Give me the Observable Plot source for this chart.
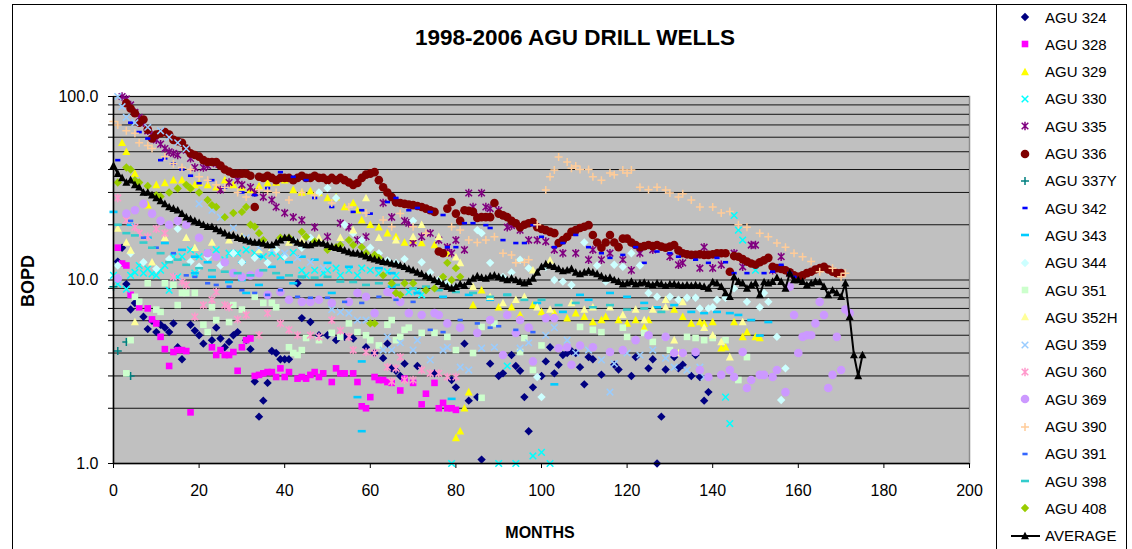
<!DOCTYPE html>
<html><head><meta charset="utf-8">
<script src="https://cdn.jsdelivr.net/npm/d3@7"></script>
<script src="https://cdn.jsdelivr.net/npm/@observablehq/plot@0.6"></script>
<style>
body{margin:0;background:#fff;font-family:"Liberation Sans",Arial,sans-serif;}
#wrap{position:relative;width:1132px;height:549px;overflow:hidden;background:#fff;}
#wrap svg.plot{position:absolute;left:0;top:0;}
.outer{position:absolute;left:12px;top:4px;width:1115px;height:600px;border:1.5px solid #000;box-sizing:border-box;}
.legbox{position:absolute;left:996px;top:4px;width:1px;height:600px;border-left:1.5px solid #000;}
.title{position:absolute;left:325px;width:500px;top:24px;text-align:center;font-weight:bold;font-size:22.5px;line-height:28px;}
.ylab{position:absolute;left:28px;top:281px;transform:translate(-50%,-50%) rotate(-90deg);font-weight:bold;font-size:18px;white-space:nowrap;}
.xlab{position:absolute;left:540px;top:533px;transform:translate(-50%,-50%);font-weight:bold;font-size:16px;white-space:nowrap;}
.leg{position:absolute;left:1005px;height:20px;display:flex;align-items:center;font-size:15px;white-space:nowrap;}
.leg svg{width:40px;height:20px;flex:none;}
</style></head><body><div id="wrap"></div><script>
// ---------- tick labels ----------
const xTicks = [0,20,40,60,80,100,120,140,160,180,200];
const yMajor = [1,10,100];
const yMajorLabels = ["1.0","10.0","100.0"];
const yGrid = [1,2,3,4,5,6,7,8,9,10,20,30,40,50,60,70,80,90,100];
const chartTitle = "1998-2006 AGU DRILL WELLS";
const xTitle = "MONTHS";
const yTitle = "BOPD";

// ---------- series: [month, BOPD] ----------
const agu324 = [[1,12.6],[2,15],[3,9.5],[4,6.9],[5,7.5],[7,6.3],[8,5.4],[9,6],[10,5.2],[11,5.7],[12,5.5],[13,5.2],[14,5.8],[15,4.3],[16,3.7],[18,5.7],[19,5.3],[20,5.0],[21,4.5],[23,4.7],[24,5.5],[25,4.8],[26,4.3],[27,4.6],[28,5.0],[29,5.2],[31,4.7],[32,4.2],[33,2.8],[34,1.8],[35,2.2],[36,2.75],[37,4.1],[38,4.0],[39,3.7],[40,3.7],[41,3.7],[43,9.6],[44,6.2],[46,5.9],[48,5.0],[50,5.0],[52,4.7],[54,4.9],[56,4.8],[59,4.3],[61,4.0],[63,3.75],[64,4.5],[65,3.3],[66,3.2],[67,3.0],[68,3.5],[71,3.4],[75,3.1],[79,2.85],[80,2.6],[82,4.5],[83,2.2],[85,2.3],[86,1.05],[88,3.5],[90,3.0],[91,3.1],[93,3.9],[94,3.4],[95,3.2],[96,2.3],[97,1.5],[98,2.6],[100,3.0],[101,3.6],[102,4.3],[103,3.1],[104,3.45],[105,3.9],[106,4.0],[107,4.1],[108,4.0],[109,3.35],[110,2.7],[111,3.8],[112,3.7],[114,3.05],[117,3.45],[118,3.25],[121,3.0],[122,3.8],[125,3.3],[126,3.7],[127,1.0],[128,1.8],[129,3.25],[131,3.8],[132,3.3],[133,3.45],[135,3.0],[136,3.9],[137,2.96],[138,2.2],[139,2.45]];
const agu328 = [[1,15],[2,12.3],[3,12],[4,8.3],[6,7.1],[8,7.0],[9,6.1],[10,5.8],[11,4.9],[12,4.2],[13,3.4],[14,4.05],[15,4.15],[16,4.15],[17,4.1],[18,1.9],[23,4.3],[24,3.9],[25,4.15],[26,3.9],[27,3.9],[28,4.05],[29,3.2],[30,4.3],[31,4.7],[32,4.8],[33,3.0],[34,3.04],[35,3.1],[36,3.15],[37,3.15],[38,2.96],[39,3.3],[40,2.96],[41,3.15],[43,2.9],[44,2.96],[45,2.9],[46,3.04],[47,3.15],[48,2.96],[49,3.1],[51,2.78],[52,3.3],[53,3.1],[54,3.1],[56,3.1],[57,2.78],[58,2.05],[59,2.0],[60,2.3],[61,2.96],[62,2.85],[63,2.85],[64,2.78],[65,2.75],[67,2.5],[68,2.9],[70,2.75],[72,2.1],[73,2.4],[75,2.75],[76,2.0],[77,2.14],[78,2.0],[79,2.0],[80,1.96]];
const agu329 = [[2,56],[3,50],[5,38],[8,25.6],[10,33],[12,33.8],[14,35],[16,35],[18,32],[19,33],[20,33.8],[22,33],[24,32],[26,35],[28,33],[30,32],[32,31],[34,32.5],[36,33.8],[38,34],[40,35],[42,31],[44,30],[46,30.5],[48,29.8],[50,28],[52,28.3],[54,25],[56,26.3],[57,24],[58,21.2],[60,20],[62,19.4],[64,18],[66,17.2],[68,16],[70,16.5],[72,15.9],[75,15.5],[78,14],[80,1.38],[81,1.5],[82,2.0],[83,2.45],[84,7.3],[86,8.8],[88,8],[90,7.1],[93,7.1],[95,6.45],[98,7.3],[100,6.7],[103,6.6],[106,6.2],[108,6.6],[110,6.3],[112,5.9],[114,6.05],[115,6.3],[118,6.05],[120,5.8],[122,6.05],[124,5.5],[125,6.05],[131,6.9],[133,6.3],[135,5.8],[137,5.9],[138,5.8],[140,5.9],[142,4.25],[143,4.3],[145,5.9],[147,4.9],[148,5.2],[150,4.9],[151,4.83]];
const agu330 = [[0,10.6],[1,9.5],[3,8.9],[4,10.6],[5,11],[6,12],[7,10.9],[8,11.5],[9,10.8],[10,10.6],[11,11.3],[12,12],[13,8.8],[14,13.4],[15,10.4],[16,13.4],[18,14.6],[19,10.9],[20,13.4],[22,14],[24,14.6],[26,12.9],[27,14],[29,14],[31,14.6],[33,14],[35,13.4],[37,14],[39,13.4],[42,14.1],[44,11.3],[45,10.6],[47,11.3],[49,10.9],[50,11.3],[52,11.6],[53,10.6],[55,11.3],[57,10.6],[58,11.6],[60,11.3],[62,10.9],[64,11.1],[66,10.6],[69,8.6],[71,8.6],[72,8.3],[79,1.0],[90,1.0],[92,3.4],[94,1.0],[98,1.1],[100,1.15],[102,1.0],[143,2.3],[144,1.65],[145,22.5],[146,18.7],[147,16.5],[148,12.4],[150,11.3]];
const agu335 = [[2,100],[3,97],[4,90],[5,82],[6,77],[7,72],[8,65],[9,62],[10,58],[11,55],[12,52],[13,50],[14,49],[15,48],[17,51],[18,46],[19,41],[21,41],[22,42],[24,43],[25,31],[27,34],[29,35],[30,33],[32,32],[33,30],[35,28.3],[37,27.3],[38,25],[40,23.2],[42,22],[44,21.2],[47,19.4],[50,17.2],[53,20.4],[55,19.4],[57,16.5],[59,17.2],[63,26.3],[65,22],[68,21],[69,20.4],[70,15.9],[72,17.2],[74,18],[76,16.5],[78,15.1],[79,14],[80,16.5],[82,14.6],[83,29.8],[84,25],[85,22],[86,29.8],[87,25],[88,24.5],[90,24],[92,19.4],[93,19.8],[95,18.7],[97,16.5],[99,16.5],[101,16.2],[103,14.6],[105,14],[108,14],[111,12.9],[112,14.6],[114,12.9],[116,14],[119,12.9],[121,11.3],[123,14],[126,14.6],[130,13.4],[132,12.1],[133,12.4],[137,11.6],[138,15.1],[140,11.6],[142,12.1],[145,14],[147,11.8],[149,15.5],[150,15.5],[154,11.3],[156,13.4],[158,10.9]];
const agu336 = [[3,92],[4,86],[5,81],[6,72],[7,75],[8,66],[9,59],[10,62],[11,63],[12,64],[13,62],[14,58],[15,57],[16,56],[17,52],[18,49],[19,48],[20,47],[21,45],[22,44],[23,44],[24,44],[25,42],[26,40],[27,39],[28,38],[29,38],[30,38],[31,38],[32,37],[33,25],[34,36.5],[35,36],[36,37],[37,36],[38,35],[39,36],[40,36],[41,36],[42,35],[43,36],[44,37],[45,36],[46,36],[47,37],[48,36],[49,36],[50,35],[51,36],[52,35],[53,36],[54,35],[55,34],[56,33],[57,33.8],[58,36],[59,37.5],[60,38],[61,38.7],[62,35],[63,32],[64,30],[65,28.3],[66,26.5],[67,26.3],[68,26],[69,25.8],[70,25.6],[71,25.3],[72,25],[73,24.5],[74,24],[75,23.5],[76,14.3],[77,14],[78,24.5],[79,26.6],[80,23],[81,21],[82,24],[83,23.8],[84,23.5],[85,21.8],[86,22],[87,22],[88,22],[89,26.3],[90,23],[91,22.5],[92,22],[93,21],[94,20.4],[95,19.4],[96,20],[97,20.4],[98,20.7],[99,19.4],[100,19],[101,18.7],[102,18.3],[103,18],[104,15.9],[105,16.5],[106,17.2],[107,18.3],[108,18.7],[109,19.2],[110,19.5],[111,19.9],[112,17.6],[113,16],[114,15],[115,16],[116,17.6],[117,16],[118,15.1],[119,16.8],[120,16.8],[121,16],[122,15.5],[123,15.1],[124,15.3],[125,15.5],[126,15.3],[127,15.5],[128,15.2],[129,15],[130,15.2],[131,15.5],[132,14.5],[133,14],[134,13.8],[135,13.7],[136,13.7],[137,13.8],[138,13.7],[139,13.7],[140,13.8],[141,14],[142,14],[143,14],[144,11.1],[145,13.5],[146,13.4],[147,13],[148,12.6],[149,12.3],[150,12.1],[151,12.5],[152,12.8],[153,13.2],[154,11.8],[155,11.6],[156,11.5],[157,11.3],[158,11],[159,10.6],[160,10.4],[161,10.6],[162,10.9],[163,11.1],[164,11.4],[165,11.6],[166,11.8],[167,11.4],[168,11.1],[169,10.9],[170,10.9]];
const agu337Y = [[0,9.2],[1,4.1],[3,4.6],[4,3.0]];
const agu342 = [[1,45],[4,72],[6,64],[8,59],[11,45],[12,46],[14,43],[16,40],[18,37],[20,33.7],[23,35],[26,32],[30,30],[33,29],[36,31.7],[39,38.7],[42,36.5],[45,35],[47,28],[51,25],[56,23.5],[58,24],[60,23],[64,26.6],[66,28],[69,24],[71,24.7],[74,23.5],[77,22.6],[78,15.1],[80,15.1],[82,20.4],[84,20.4],[87,19.9],[88,19.2],[91,16.5],[94,15.9],[96,15.9],[98,19.9],[100,17.2],[103,15.1],[105,15.9],[108,17.6],[111,15.1],[114,14],[116,13.2],[119,13.7],[122,15.1],[124,12.4],[127,14.3],[130,14],[132,13.4],[136,12.9],[139,12.4],[141,13.2],[143,12.5],[145,10.9],[148,10.9],[152,10.9],[154,11.1],[156,12.1],[158,10.9],[159,10.4]];
const agu343 = [[0,23.5],[4,20],[8,17],[12,15.9],[16,14.6],[19,13.4],[19,10.9],[22,12.5],[23,10.4],[26,12.5],[27,9.75],[30,12.5],[30,10],[31,8.5],[34,13.4],[34,9.4],[37,11.8],[39,10.3],[41,12.5],[42,9.6],[44,13.4],[44,10.4],[47,12.9],[48,9.4],[50,12.4],[51,8.5],[55,11.8],[57,2.3],[58,3.6],[58,1.5],[62,11.6],[65,10.9],[65,9.2],[71,8.5],[77,8.1],[79,2.25],[83,8.3],[88,7.8],[92,8.3],[99,7.5],[103,2.7],[105,6.7],[109,8.3],[111,7.8],[116,8.5],[120,8.1],[124,7.5],[127,7.1],[131,7.3],[135,6.7],[138,6.6],[141,6.7],[144,6.6],[146,6.45],[149,6.05],[151,4.98],[153,5.9]];
const agu344 = [[1,12],[4,14],[7,12.5],[10,11.5],[13,13],[15,19],[18,12.6],[20,11.8],[22,13.4],[25,12],[28,14],[30,12.5],[33,13.2],[36,12.4],[38,14.6],[40,13.5],[42,16.5],[44,15],[46,17],[48,30],[50,31.7],[52,28],[54,20],[56,18],[58,16.5],[60,15],[62,14],[64,12.8],[66,12.4],[68,13],[70,21],[72,12.5],[74,11],[76,10],[78,9.6],[80,9.2],[85,18.7],[86,18],[88,12.4],[91,10.4],[93,11],[95,12.9],[97,11.6],[99,2.96],[100,2.3],[101,11.8],[103,10],[105,9.8],[107,9.4],[110,16],[113,12],[115,9.8],[117,12.1],[119,11.8],[121,14],[123,12],[125,8.5],[127,8.1],[130,8.1],[132,7.8],[134,8.0],[136,8.0],[137,7.0],[139,7.0],[140,7.1],[141,7.8],[143,8.0],[145,9.0],[148,7.6],[151,7.1],[152,8.5],[153,7.6],[155,4.9],[156,2.22],[157,3.3]];
const agu351 = [[1,10.2],[3,3.1],[4,4.7],[5,8.1],[6,7.6],[8,9.6],[10,6.9],[11,6.7],[12,9.6],[14,9.4],[15,7.3],[16,8.5],[17,8.5],[19,8.5],[21,5.7],[22,5.2],[23,7.1],[24,6.05],[27,5.9],[28,7.3],[30,6.9],[33,8.1],[35,7.5],[37,7.5],[38,7.1],[41,4.3],[42,4.0],[43,3.9],[44,4.15],[45,4.83],[48,4.7],[51,5.15],[53,4.9],[55,5.8],[57,5.2],[59,5.0],[60,4.7],[62,4.4],[64,5.7],[65,6.05],[66,4.7],[67,4.9],[68,5.35],[69,5.5],[72,5.15],[75,5.15],[78,4.9],[80,4.15],[84,4.0],[86,2.28],[86,5.55],[89,5.8],[95,4.05],[96,4.83],[98,3.23],[100,4.4],[109,5.55],[112,5.35],[114,5.2],[119,5.5],[120,4.9],[124,5.15],[126,4.6],[129,4.9],[130,4.15],[134,4.9],[136,4.83],[138,4.7],[140,4.83],[143,4.7],[146,2.85],[148,3.8]];
const agu352H = [[1,19.1],[3,16],[4,14.5],[5,5.9],[9,12.5],[12,17],[17,17],[19,15],[23,16],[27,16.5],[30,17.2],[34,14.6],[37,15],[41,16],[44,16.5],[48,17],[53,17],[56,18.7],[59,28],[62,17],[66,16.5],[70,17.2],[72,20],[76,17.2],[80,13.3],[81,12.4],[84,9.2],[88,8.1],[91,7.5],[94,7.8],[96,8.1],[98,11.3],[99,7.1],[102,6.9],[102,12.8],[107,7.5],[110,6.9],[112,7.1],[116,7.1],[119,6.45],[122,6.9],[124,6.05],[126,6.9],[129,7.1],[129,7.8],[131,4.7],[132,4.0],[133,7.6],[133,4.0],[138,5.5],[140,5.0],[142,4.6],[144,3.8],[147,5.9]];
const agu359 = [[1,100],[2,88],[3,77],[5,72],[8,68],[11,65],[13,60],[15,56],[17,52],[20,26],[23,24],[25,22],[28,19.2],[31,17],[34,15],[37,14.6],[40,14],[43,13.2],[46,12.5],[49,11.6],[51,6.9],[53,6.7],[55,6.6],[57,6.05],[59,6.05],[63,4.15],[64,4.9],[65,4.15],[67,4.55],[70,4.15],[71,4.7],[74,3.67],[77,4.15],[78,4.3],[81,3.35],[83,3.23],[86,4.25],[89,4.3],[95,4.25],[97,4.55],[101,5.0],[103,5.5],[106,4.7],[108,4.0],[111,4.15],[114,3.67],[116,2.45],[117,3.5],[120,4.0],[123,3.9],[126,4.15],[129,3.75],[131,3.35],[134,3.23],[137,3.35],[138,2.96]];
const agu360 = [[1,28],[3,21.2],[5,19.4],[6,18],[8,17.2],[10,19],[12,18],[14,10.4],[16,9.75],[17,9.4],[19,6.3],[21,7.3],[23,7.8],[24,8.6],[26,7.3],[27,7.1],[29,6.1],[31,6.45],[34,5.0],[36,6.6],[39,5.8],[41,5.35],[43,5.0],[46,5.0],[48,4.9],[51,6.05],[53,5.3],[55,4.9],[56,4.15],[59,4.05],[61,4.0],[64,3.35],[65,2.8],[66,3.3],[67,3.8],[68,2.85],[70,2.85],[72,3.23],[74,3.1],[76,3.1],[78,2.96],[80,2.96]];
const agu369 = [[1,10.2],[3,23],[5,24],[7,26],[9,23],[11,21],[13,20],[15,21],[17,20],[20,17],[22,14],[24,13.4],[26,12.5],[28,10.9],[30,10.4],[32,10.6],[34,10.9],[36,8.3],[39,8.6],[41,7.8],[44,7.6],[46,7.6],[48,7.8],[51,7.5],[55,7.6],[57,8.5],[59,8.1],[61,6.6],[64,8.6],[65,8.5],[66,8.1],[67,7.6],[69,6.6],[72,6.45],[75,6.6],[76,6.45],[78,5.8],[81,5.5],[85,5.15],[88,6.05],[91,3.9],[92,6.45],[94,5.15],[95,6.05],[97,5.5],[98,3.6],[101,6.2],[103,6.2],[104,4.25],[106,4.3],[107,3.45],[109,4.4],[112,4.3],[116,4.05],[119,4.15],[122,4.7],[125,5.0],[129,4.9],[131,4.0],[133,4.0],[136,4.05],[137,3.23],[139,2.96],[142,3.04],[144,3.23],[145,2.96],[147,4.05],[148,2.58],[149,2.85],[151,3.04],[152,3.04],[154,2.96],[155,3.23],[157,2.45],[158,9.2],[159,6.45],[160,4.0],[161,4.9],[162,5.0],[163,5.0],[164,5.8],[165,7.6],[166,6.45],[167,2.58],[168,3.04],[169,4.9],[170,3.23],[171,6.9],[172,6.6]];
const agu390 = [[0,73],[1,70],[3,65],[5,63],[6,56],[8,54],[9,52],[12,47],[14,43],[16,41],[18,40],[20,36.5],[22,35],[24,33],[26,32],[29,30],[31,28.3],[34,31],[36,30.5],[38,30],[41,27.3],[44,30],[47,29],[51,26.3],[55,25],[59,23.2],[63,21.2],[65,19.5],[67,23],[70,19.5],[73,18],[79,19.5],[81,18.7],[83,16.5],[85,16],[87,16.5],[89,17.2],[91,14],[93,13.7],[94,12.4],[96,12.5],[97,12.9],[99,20],[101,30.9],[102,36.5],[103,39.7],[104,46.8],[106,44],[107,40.7],[108,41.8],[109,40],[111,40],[112,36.5],[114,35],[116,38.3],[117,37.5],[119,39.7],[120,38.3],[121,39.7],[123,32],[125,31],[127,32],[129,30.9],[130,29.8],[132,28.3],[133,29.5],[135,27.3],[137,25],[140,25],[142,23.2],[144,23.6],[146,20],[148,19.4],[151,18],[153,17.2],[155,15.9],[157,15.1],[159,14],[161,13.4],[163,12.6],[165,11.1],[168,11.6],[170,10.4],[171,10.9]];
const agu391 = [[4,21],[7,17],[10,15],[14,14],[17,10.6],[19,10.4],[22,9.6],[24,9.4],[27,9.2],[30,8.8],[33,8.5],[36,8.3],[39,8.8],[43,8.1],[46,8.0],[50,8.0],[54,7.6],[58,7.5],[62,8.1],[66,7.8],[70,7.6],[74,5.35],[77,5.2],[81,6.05],[85,5.8],[88,5.5],[90,5.6],[94,5.35],[98,5.2]];
const agu398 = [[1,20],[3,18],[5,17.5],[7,16],[9,15],[11,14],[13,12.5],[15,12.9],[17,12.1],[20,11.6],[23,11.3],[26,11.1],[29,10.9],[32,10.6],[35,11.3],[38,10.9],[41,10.6],[44,10.4],[47,10.3],[50,10.4],[53,9.8],[56,9.75],[59,9.4],[62,9.6],[66,9.4],[70,9.0],[73,9.2],[76,8.8],[80,8.6],[84,8.5],[88,8.1],[92,8.3],[96,7.8],[100,7.8],[104,7.3],[108,7.5],[112,7.1],[116,7.3],[120,6.9],[124,7.0],[128,6.7]];
const agu408 = [[1,34],[3,41],[4,40],[5,35],[6,34],[8,32.5],[10,29],[11,28.5],[13,30],[15,31.5],[17,33],[18,31.5],[20,30],[22,27.3],[23,25.6],[24,25],[26,22],[28,23.2],[30,23.5],[31,25],[32,20],[33,19.5],[34,18],[35,16.5],[39,17],[41,17],[44,18.3],[45,17.2],[47,16.2],[50,14.6],[52,15.1],[53,15.5],[55,16.5],[56,15.5],[58,15.1],[59,14],[60,5.8],[61,5.8],[61,13.7],[62,13.2],[63,10.6],[65,9.6],[66,8.5],[67,8.3],[68,9.6],[70,9.6],[73,8.8],[75,9.0],[77,10.4],[78,12.4],[79,10],[80,11.6],[81,10.4]];
// AVERAGE, one value per month from month 0
const averageValues = [42,38,36,34,35,33,32,30,30,29,28,
 27,26,25,24.5,24,23,22,21.5,21,20.5,
 20,19.5,19.5,19,18.5,18,17.5,17.5,17,16.8,
 16.5,16.2,16,16,15.8,15.5,15.5,16,16.5,17,
 17,16.5,16,15.8,15.5,15.5,15.8,16,15.8,15.5,
 15.2,15,14.8,14.5,14.2,14,14,13.8,13.5,13.2,
 13,12.8,12.6,12.5,12.3,12.2,12,11.8,11.5,11.3,
 11,10.8,10.5,10.3,10,9.8,9.5,9.2,9,9.2,
 9.5,9.3,9.8,10.2,10.5,10.3,10.2,10.5,10.6,10.4,
 10.2,10,10.2,10,9.8,9.6,9.8,10.2,11,11.8,
 12.2,12,11.8,11.5,11.2,11.3,11.5,11,10.8,11,
 11.2,11,10.8,10.5,10.2,10.3,10,9.8,9.5,9.6,
 9.8,9.5,9.6,9.7,9.5,9.4,9.6,9.5,9.3,9.5,
 9.5,9.4,9.3,9.4,9.3,9.4,9.3,9.2,9.0,9.75,
 9.6,9.2,8.5,8.1,10.4,9.8,9.6,9.0,9.4,9.6,
 8.3,9.75,9.6,9.8,10.3,9.8,9.0,10.9,10,10,
 9.8,9.4,9.6,9.8,9.75,9.2,8.3,8.8,8.5,8.1,
 9.6,6.3,3.9,3.0,3.9];

const seriesNames = ["AGU 324","AGU 328","AGU 329","AGU 330","AGU 335","AGU 336","AGU 337Y","AGU 342","AGU 343","AGU 344","AGU 351","AGU 352H","AGU 359","AGU 360","AGU 369","AGU 390","AGU 391","AGU 398","AGU 408"];
const seriesData = [agu324,agu328,agu329,agu330,agu335,agu336,agu337Y,agu342,agu343,agu344,agu351,agu352H,agu359,agu360,agu369,agu390,agu391,agu398,agu408];
const seriesColors = ["#000080","#FF00FF","#FFFF00","#00FFFF","#800080","#800000","#008080","#0000FF","#00CCFF","#CCFFFF","#CCFFCC","#FFFF99","#99CCFF","#FF99CC","#CC99FF","#FFCC99","#3366FF","#33CCCC","#99CC00"];
const seriesSymbols = ["diamond","square","triangle","times","star","circle","plus","dashS","dashL","diamond","square","triangle","times","star","circle","plus","dashS","dashL","diamond"];
const averageName = "AVERAGE";

// ---------- marker shapes ----------
const SYM = {
  diamond:{draw(c){const r=4.2;c.moveTo(0,-r);c.lineTo(r,0);c.lineTo(0,r);c.lineTo(-r,0);c.closePath();}},
  square:{draw(c){const r=3.3;c.moveTo(-r,-r);c.lineTo(r,-r);c.lineTo(r,r);c.lineTo(-r,r);c.closePath();}},
  triangle:{draw(c){c.moveTo(0,-4.3);c.lineTo(4,3.3);c.lineTo(-4,3.3);c.closePath();}},
  times:{draw(c){const r=3.3;c.moveTo(-r,-r);c.lineTo(r,r);c.moveTo(-r,r);c.lineTo(r,-r);}},
  star:{draw(c){const r=3.3;c.moveTo(-r,-r);c.lineTo(r,r);c.moveTo(-r,r);c.lineTo(r,-r);c.moveTo(0,-4.2);c.lineTo(0,4.2);}},
  circle:{draw(c){const r=4.3;c.moveTo(r,0);c.arc(0,0,r,0,2*Math.PI);c.closePath();}},
  plus:{draw(c){const r=4;c.moveTo(-r,0);c.lineTo(r,0);c.moveTo(0,-r);c.lineTo(0,r);}},
  dashS:{draw(c){c.moveTo(-2.6,-1.3);c.lineTo(2.6,-1.3);c.lineTo(2.6,1.3);c.lineTo(-2.6,1.3);c.closePath();}},
  dashL:{draw(c){c.moveTo(-4,-1.3);c.lineTo(4,-1.3);c.lineTo(4,1.3);c.lineTo(-4,1.3);c.closePath();}}
};
const STROKED = new Set(["times","star","plus"]);

const font = "'Liberation Sans', Arial, sans-serif";
const averageData = averageValues.map((v,i)=>({month:i, value:v}));

const dotMarks = seriesData.map((data,i)=>{
  const s = seriesSymbols[i], stroked = STROKED.has(s);
  return Plot.dot(data, {x:d=>d[0], y:d=>d[1], symbol:SYM[s], r:4,
    fill: stroked ? "none" : seriesColors[i],
    stroke: stroked ? seriesColors[i] : "none", strokeWidth:1.5});
});

const chart = Plot.plot({
  width:1132, height:549,
  marginLeft:113, marginRight:163, marginTop:96, marginBottom:86,
  x:{domain:[0,200]},
  y:{type:"log", domain:[1,100]},
  style:{fontSize:"16px", fontFamily:font, color:"#000", background:"transparent", overflow:"visible"},
  marks:[
    Plot.frame({fill:"#C0C0C0", stroke:"#8c8c8c", strokeWidth:1.5}),
    Plot.gridY(yGrid, {stroke:"#000", strokeOpacity:0.9, strokeWidth:1}),
    ...dotMarks,
    Plot.line(averageData, {x:"month", y:"value", stroke:"#000", strokeWidth:2}),
    Plot.dot(averageData, {x:"month", y:"value", symbol:SYM.triangle, r:4, fill:"#000", stroke:"none"}),
    Plot.ruleX([0], {stroke:"#000", strokeWidth:1.5}),
    Plot.ruleY([1], {stroke:"#000", strokeWidth:1.5}),
    Plot.axisX({ticks:xTicks, tickSize:5, tickPadding:16, label:null, tickFormat:d=>String(d)}),
    Plot.axisY({ticks:yGrid, tickSize:5, tickPadding:10, label:null,
      tickFormat:d=>{const k=yMajor.indexOf(d); return k>=0 ? yMajorLabels[k] : "";}})
  ]
});
chart.classList.add("plot");

const wrap = document.getElementById("wrap");
wrap.appendChild(chart);
function el(cls, text){const d=document.createElement("div"); d.className=cls; if(text!=null) d.textContent=text; wrap.appendChild(d); return d;}
el("outer"); el("legbox");
el("title", chartTitle);
el("ylab", yTitle);
el("xlab", xTitle);

function symPath(s){const p=d3.path(); SYM[s].draw(p); return p.toString();}
const rowStep = 27.3, rowTop0 = 17;
seriesNames.forEach((name,i)=>{
  const d = el("leg");
  d.style.top = (rowTop0 + i*rowStep - 10) + "px";
  const s = seriesSymbols[i], stroked = STROKED.has(s);
  d.innerHTML = `<svg viewBox="-20 -10 40 20"><path d="${symPath(s)}" fill="${stroked?'none':seriesColors[i]}" stroke="${stroked?seriesColors[i]:'none'}" stroke-width="1.5"/></svg>`;
  const t = document.createElement("span"); t.textContent = name; d.appendChild(t);
});
{
  const d = el("leg");
  d.style.top = (rowTop0 + seriesNames.length*rowStep - 10) + "px";
  d.innerHTML = `<svg viewBox="-20 -10 40 20"><line x1="-14" x2="15" y1="0" y2="0" stroke="#000" stroke-width="2"/><path d="${symPath('triangle')}" fill="#000"/></svg>`;
  const t = document.createElement("span"); t.textContent = averageName; d.appendChild(t);
}
</script></body></html>
